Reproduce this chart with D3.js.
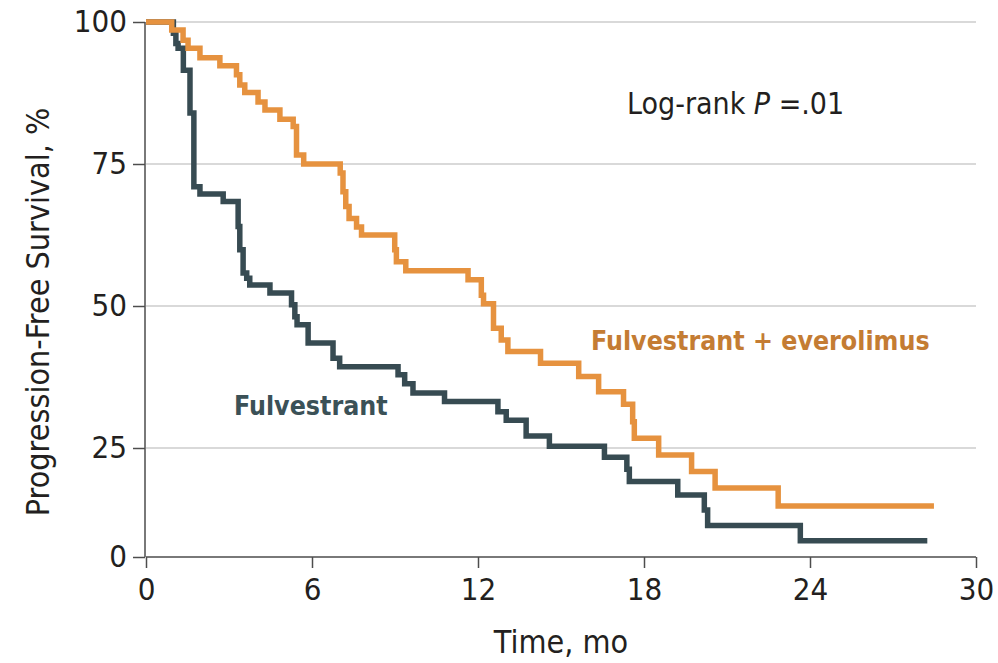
<!DOCTYPE html>
<html>
<head>
<meta charset="utf-8">
<script src="https://cdn.jsdelivr.net/npm/d3@7"></script>
<style>
  body { margin: 0; background: #fff; }
  svg text { font-family: "DejaVu Sans Condensed", "DejaVu Sans", sans-serif; font-stretch: condensed; fill: #231f20; }
</style>
</head>
<body>
<svg id="chart" width="998" height="663"></svg>
<script>
// months, survival % (step after each time)
var evTimes = [0, 0.93, 1.34, 1.52, 1.95, 2.67, 3.27, 3.39, 3.57, 4.05, 4.30, 4.84, 5.32, 5.44, 5.70,
  7.02, 7.12, 7.22, 7.34, 7.61, 7.79, 8.99, 9.05, 9.39, 11.64, 12.12, 12.2, 12.56, 12.84, 13.08,
  14.26, 15.64, 16.36, 17.26, 17.59, 17.65, 18.53, 19.72, 20.57, 22.85, 28.48];
var evSurv = [100, 98.6, 96.8, 95.4, 93.7, 92.3, 90.7, 88.9, 87.6, 85.9, 84.5, 82.9, 81.6, 76.6, 75.0,
  73.4, 70.1, 67.5, 65.4, 63.9, 62.5, 59.9, 57.8, 56.2, 54.6, 51.9, 50.4, 46.1, 44.0, 42.0,
  39.9, 37.6, 34.9, 32.7, 29.6, 26.7, 23.4, 19.6, 15.8, 11.7, 11.7];

var fuTimes = [0, 0.99, 1.08, 1.16, 1.35, 1.59, 1.73, 1.95, 2.79, 3.33, 3.39, 3.51, 3.64, 3.75, 4.48,
  5.26, 5.38, 5.46, 5.86, 6.76, 7.0, 9.11, 9.35, 9.65, 10.79, 12.72, 13.02, 13.74, 14.58,
  16.57, 17.38, 17.47, 19.22, 20.18, 20.30, 23.65, 28.24];
var fuSurv = [100, 98.0, 96.2, 95.4, 91.5, 84.0, 71.0, 69.7, 68.4, 64.0, 59.9, 55.8, 54.9, 53.7, 52.3,
  50.2, 48.1, 46.7, 43.5, 40.8, 39.3, 37.9, 36.3, 34.7, 33.2, 31.4, 29.9, 27.1, 25.3,
  22.9, 20.1, 17.3, 14.2, 10.8, 7.2, 3.7, 3.7];

var xTicks = [0, 6, 12, 18, 24, 30];
var yTicks = [0, 25, 50, 75, 100];

var svg = d3.select("#chart");

var x = d3.scaleLinear().domain([0, 30]).range([146, 976]);
// the 0 baseline sits closer to 25 than the other gridlines do
var y = d3.scaleLinear().domain([0, 25, 100]).range([557, 448, 22]);

// gridlines
svg.selectAll(".grid")
  .data(yTicks.filter(function (d) { return d > 0; }))
  .enter().append("line")
  .attr("x1", x(0)).attr("x2", x(30))
  .attr("y1", function (d) { return y(d); }).attr("y2", function (d) { return y(d); })
  .attr("stroke", "#d9d9d9").attr("stroke-width", 2);

// axes
var xAxis = svg.append("g").attr("transform", "translate(0," + y(0) + ")")
  .call(d3.axisBottom(x).tickValues(xTicks).tickSize(11).tickPadding(10));
var yAxis = svg.append("g").attr("transform", "translate(" + (x(0) - 1) + ",0)")
  .call(d3.axisLeft(y).tickValues(yTicks).tickSize(12).tickPadding(6));
[xAxis, yAxis].forEach(function (g) {
  g.select(".domain").attr("stroke", "#4d4d4d").attr("stroke-width", 1.5);
  g.selectAll(".tick line").attr("stroke", "#4d4d4d").attr("stroke-width", 1.5);
  g.selectAll(".tick text").attr("font-size", 31).attr("fill", "#231f20")
    .style("font-family", "'DejaVu Sans Condensed', 'DejaVu Sans', sans-serif");
});
xAxis.select(".domain").attr("d", "M" + x(0) + ",0H" + x(30) + "");
yAxis.select(".domain").attr("d", "M0," + y(0) + "V" + y(100));

var line = d3.line()
  .x(function (d) { return x(d[0]); })
  .y(function (d) { return y(d[1]); })
  .curve(d3.curveStepAfter);

svg.append("path")
  .datum(d3.zip(fuTimes, fuSurv))
  .attr("d", line).attr("fill", "none")
  .attr("stroke", "#374b52").attr("stroke-width", 5.5);
svg.append("path")
  .datum(d3.zip(evTimes, evSurv))
  .attr("d", line).attr("fill", "none")
  .attr("stroke", "#e6923f").attr("stroke-width", 5.5);

// axis titles
svg.append("text").attr("x", 561).attr("y", 653).attr("text-anchor", "middle")
  .attr("font-size", 32).text("Time, mo");
svg.append("text").attr("transform", "translate(49,312) rotate(-90)").attr("text-anchor", "middle")
  .attr("font-size", 32).text("Progression-Free Survival, %");

// annotations
var lr = svg.append("text").attr("x", 627).attr("y", 114).attr("font-size", 30);
lr.append("tspan").text("Log-rank ");
lr.append("tspan").attr("font-style", "italic").text("P");
lr.append("tspan").text(" =.01");

svg.append("text").attr("x", 591).attr("y", 350).attr("font-size", 26.5).attr("font-weight", "bold")
  .style("fill", "#c47c33").text("Fulvestrant + everolimus");
svg.append("text").attr("x", 234).attr("y", 415).attr("font-size", 26.5).attr("font-weight", "bold")
  .style("fill", "#3b5157").text("Fulvestrant");
</script>
</body>
</html>
